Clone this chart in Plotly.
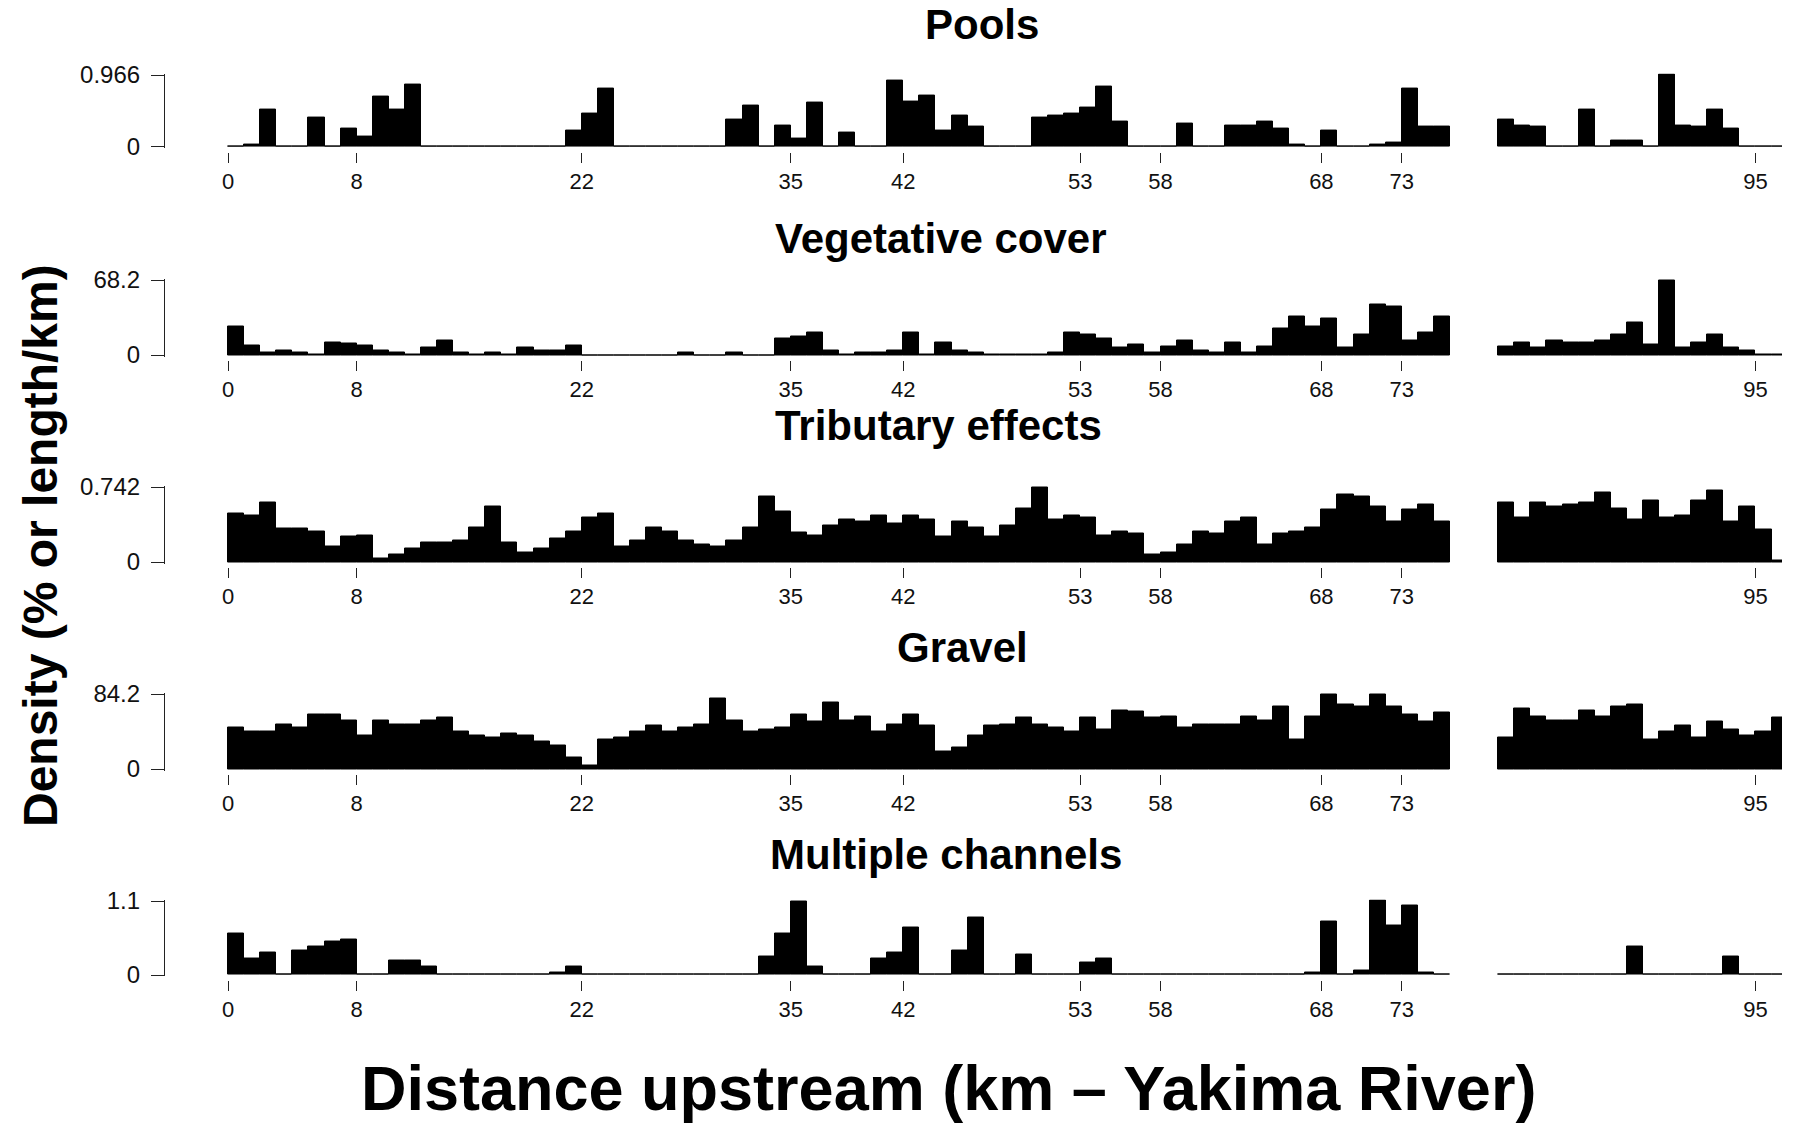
import plotly.graph_objects as go

# 1-km bins upstream from the Yakima confluence (left edge of each bin, km);
# no data between km 76 and 79
km_bins = list(range(0, 76)) + list(range(79, 97))

pools = [
    0, 0.027, 0.50, 0, 0, 0.40, 0, 0.244, 0.137, 0.68,
    0.50, 0.84, 0, 0, 0, 0, 0, 0, 0, 0,
    0, 0.213, 0.447, 0.79, 0, 0, 0, 0, 0, 0,
    0, 0.372, 0.55, 0, 0.29, 0.11, 0.60, 0, 0.186, 0,
    0, 0.895, 0.607, 0.687, 0.213, 0.42, 0.266, 0, 0, 0,
    0.394, 0.42, 0.447, 0.527, 0.815, 0.345, 0, 0, 0, 0.319,
    0, 0, 0.292, 0.292, 0.345, 0.239, 0.031, 0, 0.213, 0,
    0, 0.027, 0.058, 0.79, 0.266, 0.266,
    0.372, 0.29, 0.266, 0, 0, 0.50, 0, 0.084, 0.084, 0,
    0.966, 0.29, 0.266, 0.50, 0.239, 0, 0, 0,
]

vegetative_cover = [
    26.0, 8.26, 2.45, 4.28, 2.45, 0.6, 11.6, 10.1, 8.26, 4.28,
    2.45, 0.6, 6.4, 13.5, 2.45, 0.6, 2.45, 0.6, 6.4, 4.28,
    4.28, 8.26, 0, 0, 0, 0, 0, 0, 2.45, 0,
    0, 2.45, 0, 0, 15.3, 17.1, 20.5, 4.28, 0.6, 2.45,
    2.45, 4.28, 20.5, 0.6, 11.6, 4.28, 2.45, 0.6, 0.6, 0.6,
    0.6, 2.45, 20.5, 18.7, 15.3, 6.4, 9.8, 2.45, 8.0, 13.5,
    4.28, 2.45, 11.6, 2.45, 8.0, 24.5, 35.2, 26.0, 33.3, 6.4,
    18.7, 45.9, 44.0, 13.5, 20.5, 35.2,
    8.0, 11.6, 6.4, 13.5, 11.6, 11.6, 13.5, 18.7, 29.7, 9.8,
    68.2, 6.4, 11.6, 18.7, 6.4, 4.28, 0.6, 0.6,
]

tributary_effects = [
    0.478, 0.459, 0.592, 0.329, 0.329, 0.306, 0.153, 0.25, 0.267, 0.033,
    0.072, 0.130, 0.189, 0.189, 0.208, 0.345, 0.553, 0.189, 0.091, 0.130,
    0.231, 0.306, 0.439, 0.478, 0.153, 0.208, 0.345, 0.306, 0.208, 0.172,
    0.153, 0.208, 0.345, 0.651, 0.498, 0.290, 0.267, 0.364, 0.423, 0.404,
    0.459, 0.381, 0.459, 0.423, 0.250, 0.404, 0.345, 0.250, 0.364, 0.534,
    0.742, 0.420, 0.459, 0.439, 0.267, 0.306, 0.286, 0.075, 0.091, 0.172,
    0.306, 0.286, 0.400, 0.439, 0.172, 0.286, 0.306, 0.345, 0.517, 0.667,
    0.648, 0.553, 0.400, 0.517, 0.573, 0.400,
    0.592, 0.439, 0.592, 0.553, 0.573, 0.592, 0.687, 0.534, 0.420, 0.612,
    0.439, 0.459, 0.612, 0.706, 0.400, 0.553, 0.325, 0.016,
]

gravel = [
    46.4, 41.9, 41.9, 50.5, 46.4, 61.7, 61.7, 55.0, 37.4, 55.0,
    50.5, 50.5, 55.0, 57.3, 41.9, 37.4, 35.2, 39.7, 37.4, 30.7,
    26.2, 13.1, 4.1, 32.9, 35.2, 41.9, 48.3, 41.9, 46.4, 50.5,
    79.0, 55.0, 41.9, 43.8, 46.4, 61.7, 52.8, 74.5, 55.0, 59.5,
    41.9, 50.5, 61.7, 48.3, 19.8, 24.3, 37.4, 48.3, 50.5, 57.3,
    50.5, 46.4, 41.9, 57.3, 43.8, 66.2, 64.0, 57.3, 59.5, 46.4,
    50.5, 50.5, 50.5, 59.5, 55.0, 70.4, 32.9, 59.5, 84.2, 72.6,
    70.4, 83.1, 70.4, 61.7, 52.8, 63.6,
    35.2, 68.1, 59.5, 55.0, 55.0, 66.2, 59.5, 70.4, 72.6, 32.9,
    41.9, 48.3, 35.2, 52.8, 43.8, 37.4, 41.9, 57.3,
]

multiple_channels = [
    0.622, 0.242, 0.330, 0, 0.360, 0.419, 0.503, 0.533, 0, 0,
    0.212, 0.212, 0.128, 0, 0, 0, 0, 0, 0, 0,
    0.039, 0.128, 0, 0, 0, 0, 0, 0, 0, 0,
    0, 0, 0, 0.276, 0.622, 1.09, 0.128, 0, 0, 0,
    0.242, 0.330, 0.710, 0, 0, 0.360, 0.858, 0, 0, 0.301,
    0, 0, 0, 0.187, 0.247, 0, 0, 0, 0, 0,
    0, 0, 0, 0, 0, 0, 0, 0.039, 0.794, 0,
    0.064, 1.1, 0.735, 1.026, 0.039, 0,
    0, 0, 0, 0, 0, 0, 0, 0, 0.419, 0,
    0, 0, 0, 0, 0.271, 0, 0, 0,
]

panel_titles = ["Pools", "Vegetative cover", "Tributary effects", "Gravel", "Multiple channels"]
panel_series = [pools, vegetative_cover, tributary_effects, gravel, multiple_channels]
panel_max = [0.966, 68.2, 0.742, 84.2, 1.1]
panel_max_labels = ["0.966", "68.2", "0.742", "84.2", "1.1"]

km_ticks = [0, 8, 22, 35, 42, 53, 58, 68, 73, 95]

# ---- page geometry (pixels) ----
W, H = 1799, 1124
plot_left, plot_right = 165, 1782          # y-axis line / right clip edge
x_range = [-3.92, 96.65]
# (top of y-axis, zero line) for each panel
panel_rows = [(75, 146.8), (280, 355), (487, 562), (694, 769), (901, 975)]
# centre of each panel heading
title_pos = [(982, 24), (941, 238), (938, 426), (962, 647), (946, 854)]

PAD = 0.02
tick_font = "Liberation Sans, Arial, sans-serif"
bold = "Liberation Sans, Arial, sans-serif"


def px_x(px):
    return px / W


def px_y(py):
    return 1 - py / H


fig = go.Figure()
layout = dict(
    width=W, height=H,
    margin=dict(l=0, r=0, t=0, b=0, autoexpand=False),
    paper_bgcolor="white", plot_bgcolor="white",
    showlegend=False, bargap=0,
    annotations=[],
)

for i, (name, vals, vmax, vlab) in enumerate(zip(panel_titles, panel_series, panel_max, panel_max_labels)):
    n = i + 1
    xa = "x" if n == 1 else f"x{n}"
    ya = "y" if n == 1 else f"y{n}"
    top, zero = panel_rows[i]
    pad_px = PAD * (zero - top)

    fig.add_trace(go.Bar(
        x=km_bins, y=vals, width=1, offset=0,
        marker=dict(color="black", line=dict(color="black", width=1)),
        xaxis=xa, yaxis=ya, hoverinfo="x+y",
    ))

    layout[f"xaxis{'' if n == 1 else n}"] = dict(
        domain=[px_x(plot_left), px_x(plot_right)],
        range=x_range,
        anchor="free",
        position=px_y(zero + 5),
        automargin=False,
        showline=False, showgrid=False, zeroline=False,
        ticks="outside", ticklen=10, tickwidth=1.2, tickcolor="#222",
        tickmode="array", tickvals=km_ticks,
        ticktext=[str(t) for t in km_ticks],
        tickfont=dict(family=tick_font, size=22, color="#111"),
        ticklabelstandoff=0,
    )
    layout[f"yaxis{'' if n == 1 else n}"] = dict(
        domain=[px_y(zero + pad_px), px_y(top - pad_px)],
        range=[-PAD * vmax, vmax * (1 + PAD)],
        anchor=xa,
        automargin=False,
        showline=True, linecolor="#222", linewidth=1.2,
        showgrid=False, zeroline=False,
        ticks="outside", ticklen=13, tickwidth=1.2, tickcolor="#222",
        tickmode="array", tickvals=[0, vmax], ticktext=["0", vlab],
        tickfont=dict(family=tick_font, size=24, color="#111"),
        ticklabelstandoff=6,
    )

    tx, ty = title_pos[i]
    layout["annotations"].append(dict(
        text=f"<b>{name}</b>", x=px_x(tx), y=px_y(ty),
        xref="paper", yref="paper", xanchor="center", yanchor="middle",
        showarrow=False, font=dict(family=bold, size=42, color="black"),
    ))

layout["annotations"].append(dict(
    text="<b>Density (% or length/km)</b>", x=px_x(40), y=px_y(546),
    xref="paper", yref="paper", xanchor="center", yanchor="middle",
    textangle=-90, showarrow=False,
    font=dict(family=bold, size=48, color="black"),
))
layout["annotations"].append(dict(
    text="<b>Distance upstream (km \u2013 Yakima River)</b>", x=px_x(948), y=px_y(1088),
    xref="paper", yref="paper", xanchor="center", yanchor="middle",
    showarrow=False, font=dict(family=bold, size=63, color="black"),
))

fig.update_layout(**layout)
fig.write_html("out.html")
